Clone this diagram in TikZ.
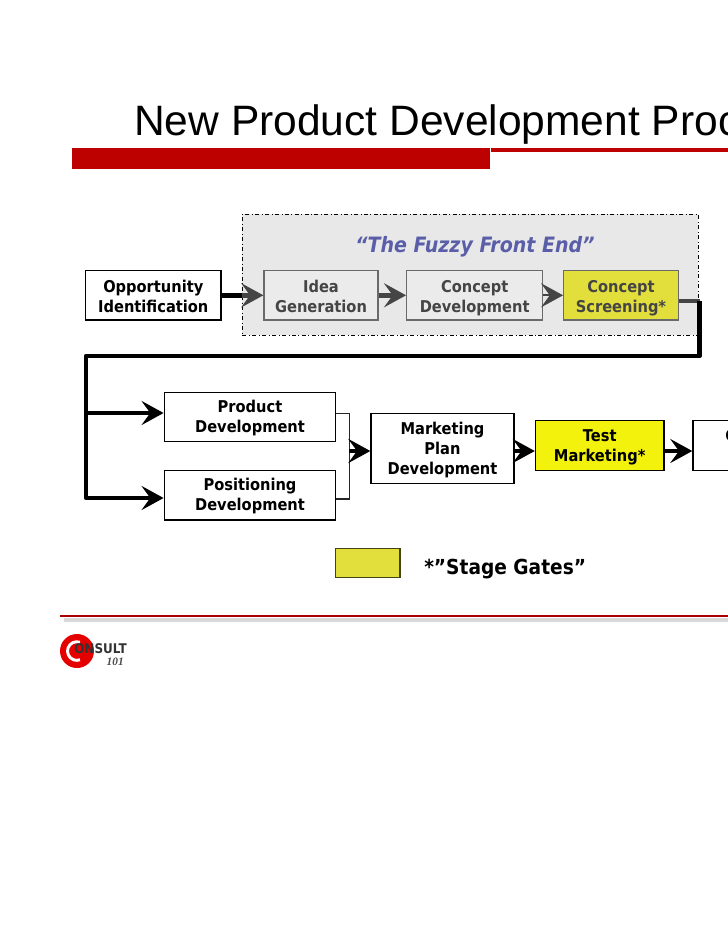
\documentclass[tikz,border=0pt]{standalone}
\usepackage{fontspec}
\setmainfont{Liberation Sans}
\newfontfamily\boxfont[FakeStretch=0.9]{DejaVu Sans}
\newfontfamily\logofont{Liberation Serif}
\usepackage{xcolor}
\usetikzlibrary{arrows.meta,positioning,calc}
\definecolor{brandred}{HTML}{BD0000}
\definecolor{gatelight}{HTML}{E2DF3C}
\definecolor{gatefull}{HTML}{F2F20C}
\definecolor{fuzzyblue}{HTML}{5A5EA8}
\definecolor{washed}{HTML}{454545}
\begin{document}
\begin{tikzpicture}[x=.75pt,y=-.75pt,>={Stealth[length=16.5pt,width=18pt,inset=6.5pt]},
 stepbox/.style={draw=#1,line width=1pt,fill=white,align=center,inner sep=0pt,
  font=\boxfont\bfseries\fontsize{12.2}{15}\selectfont,text height=26.6pt,text depth=3.5pt},
 stepbox/.default=black,
 toprow/.style={text height=29pt},
 fuzzybox/.style={stepbox=washed!80,toprow,fill=black!8,text=washed},
 arr/.style={->,draw=black,line width=3.6pt,line join=round},
 arrwash/.style={->,draw=washed,line width=3.6pt}]
\useasboundingbox (0,0) rectangle (728,943);
\clip (0,0) rectangle (728,943);
% header
\node[anchor=base west,inner sep=0pt,font=\fontsize{31.9}{36}\selectfont] (title) at (134,135) {New Product Development Proc};
\node[fill=brandred,inner sep=0pt,minimum width=418*.75pt,minimum height=20.5*.75pt,anchor=north west] (bar) at (72,148) {};
\coordinate (barend) at (728,150);
\draw[brandred,line width=2.6pt] (bar.north east |- barend) -- (barend);
% fuzzy front end
\node[draw=black,dash dot,line width=.7pt,fill=black!9,inner sep=0pt,minimum width=456*.75pt,minimum height=121*.75pt,anchor=north west] (fuzzy) at (242,214) {};
\node[font=\boxfont\bfseries\itshape\fontsize{15.85}{18}\selectfont,text=fuzzyblue] (fuzzylabel) at (475,247) {“The Fuzzy Front End”};
\node[stepbox,toprow,minimum width=135.5*.75pt,minimum height=49.5*.75pt] (opp) at (153.3,295.3) {Opportunity\\Identification};
\node[fuzzybox,minimum width=114*.75pt,minimum height=49.5*.75pt] (idea) at (321,295.3) {Idea\\Generation};
\node[fuzzybox,minimum width=136*.75pt,minimum height=49.5*.75pt] (dev) at (474.7,295.3) {Concept\\Development};
\node[fuzzybox,fill=gatelight,minimum width=114.5*.75pt,minimum height=49.5*.75pt] (screen) at (621,295.3) {Concept\\Screening*};
\draw[arrwash] (opp)--(idea);
\draw[line width=3.6pt] (opp.east)--(opp.east -| fuzzy.west);
\draw[arrwash] (idea)--(dev);
\draw[arrwash,line width=1.5pt] (dev)--(screen);
% feed down to second row
\coordinate (turn) at (699.5,301);
\coordinate (low) at (699.5,356);
\coordinate (left) at (86,356);
\coordinate (prodin) at (86,413);
\coordinate (posin) at (86,498);
\draw[washed,line width=3pt] (screen.east |- turn)--(turn);
% second row
\node[stepbox,minimum width=171.5*.75pt,minimum height=49.5*.75pt] (prod) at (250,417) {Product\\Development};
\node[stepbox,minimum width=171.5*.75pt,minimum height=49.5*.75pt] (pos) at (250,495.3) {Positioning\\Development};
\node[stepbox,text height=41.9pt,minimum width=143*.75pt,minimum height=69.5*.75pt] (plan) at (442.5,448.5) {Marketing\\Plan\\Development};
\node[stepbox,fill=gatefull,minimum width=128.5*.75pt,minimum height=50*.75pt] (test) at (599.7,445.7) {Test\\Marketing*};
\node[stepbox,minimum width=75.4*.75pt,minimum height=50*.75pt,anchor=west] (comm) at (692.3,445.7) {C\\~};
\coordinate (prodout) at (335.7,413.3);
\coordinate (posout) at (335.7,499);
\coordinate (joint) at (349.3,413.3);
\coordinate (jointlow) at (349.3,499);
\coordinate (merge) at (349.3,451);
\draw[black!85,line width=1.1pt] (prodout)--(joint)--(jointlow)--(posout);
\draw[arr] (turn)--(low)--(left)--(posin)--(posin -| pos.west);
\draw[arr] (prodin)--(prodin -| prod.west);
\draw[arr] (merge)--(merge -| plan.west);
\draw[arr] (plan.east |- merge)--(merge -| test.west);
\draw[arr] (test.east |- merge)--(merge -| comm.west);
% legend
\node[draw=black!70!gatelight,line width=1pt,fill=gatelight,inner sep=0pt,minimum width=64.5*.75pt,minimum height=29*.75pt] (legend) at (367.7,563.3) {};
\node[font=\boxfont\bfseries\fontsize{15.5}{18}\selectfont,anchor=west,inner sep=0pt] (legendtext) at (424,569) {*”Stage Gates”};
% footer
\coordinate (footl) at (60,616);
\coordinate (footr) at (728,616);
\draw[black!15,line width=3pt] ($(footl)+(4,4)$)--($(footr)+(0,4)$);
\draw[brandred!90!black,line width=1.6pt] (footl)--(footr);
\node[circle,fill=red!90!black,minimum size=25.5pt,inner sep=0pt] (logo) at (77,651) {};
\draw[white,line width=2.2pt] ($(logo)+(3,-8.7)$) arc[start angle=-70,end angle=-290,radius=9.3];
\node[anchor=west,inner sep=0pt,font=\boxfont\bfseries\fontsize{10}{11}\selectfont,text=black!80] (logotext) at (74,649) {ONSULT};
\node[anchor=east,inner sep=0pt,font=\logofont\itshape\bfseries\fontsize{8.5}{9}\selectfont,text=black!70] (logonum) at (124,662) {101};
\end{tikzpicture}
\end{document}
